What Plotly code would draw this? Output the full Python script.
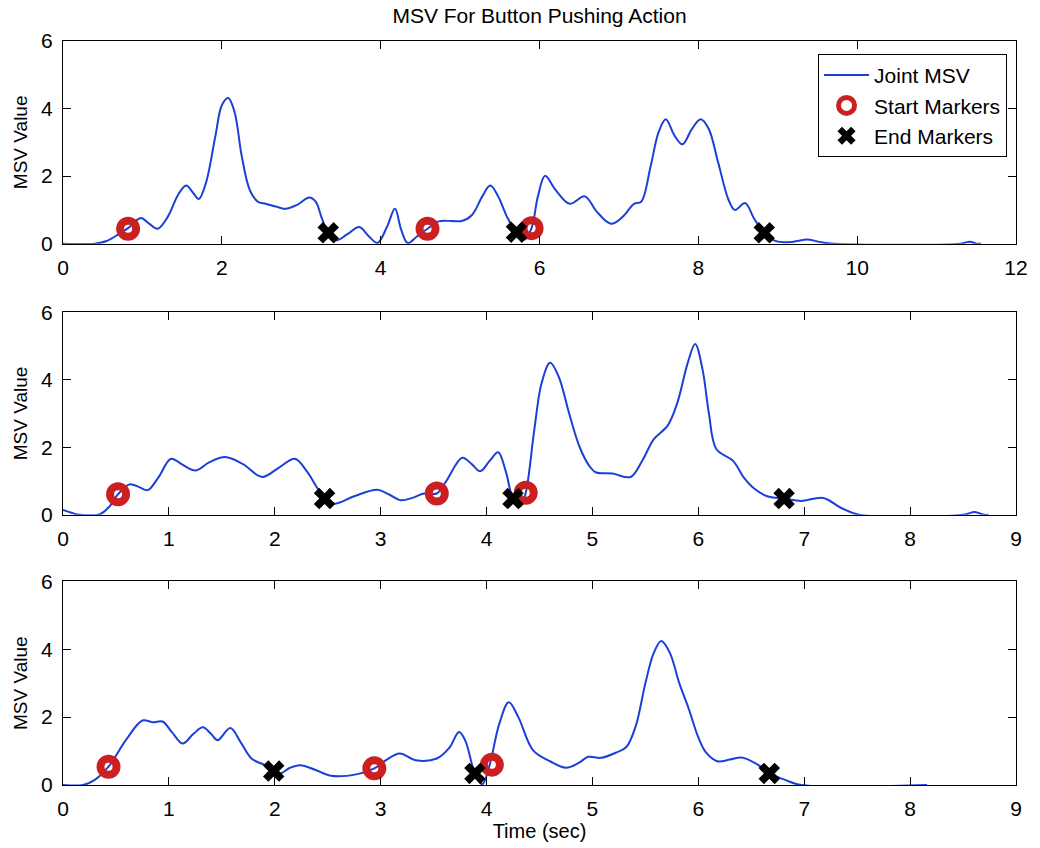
import plotly.graph_objects as go

# --- Trial 1: joint MSV over time -------------------------------------------
t1 = [0.0, 0.4, 0.55, 0.7, 0.82, 0.98, 1.08, 1.19, 1.32, 1.45, 1.55, 1.64, 1.71,
      1.8, 1.92, 2.0, 2.08, 2.16, 2.25, 2.35, 2.45, 2.55, 2.68, 2.8, 2.95, 3.1,
      3.18, 3.26, 3.34, 3.44, 3.58, 3.73, 3.85, 3.96, 4.08, 4.18, 4.26, 4.34,
      4.46, 4.59, 4.73, 4.9, 5.02, 5.15, 5.28, 5.38, 5.48, 5.6, 5.71, 5.81, 5.9,
      5.98, 6.07, 6.2, 6.38, 6.57, 6.72, 6.9, 7.05, 7.19, 7.28, 7.4, 7.5, 7.59,
      7.7, 7.8, 7.92, 8.03, 8.13, 8.25, 8.38, 8.46, 8.59, 8.7, 8.83, 8.95, 9.07,
      9.2, 9.38, 9.55, 9.71, 11.3, 11.42, 11.5, 11.56]
v1 = [0.0, 0.0, 0.08, 0.28, 0.46, 0.76, 0.6, 0.44, 0.8, 1.45, 1.72, 1.5, 1.32,
      1.8, 3.2, 4.1, 4.31, 3.9, 2.6, 1.6, 1.25, 1.18, 1.1, 1.03, 1.15, 1.37,
      1.25, 0.75, 0.32, 0.1, 0.28, 0.49, 0.22, 0.02, 0.5, 1.03, 0.4, 0.02,
      0.22, 0.44, 0.66, 0.67, 0.67, 0.85, 1.4, 1.72, 1.4, 0.75, 0.34, 0.12, 0.46,
      1.4, 2.01, 1.6, 1.18, 1.4, 0.95, 0.59, 0.8, 1.18, 1.24, 2.3, 3.3, 3.68,
      3.2, 2.94, 3.4, 3.68, 3.4, 2.4, 1.3, 1.0, 1.2, 0.75, 0.32, 0.1, 0.04,
      0.06, 0.12, 0.04, 0.0, 0.0, 0.06, 0.0, 0.0]
start_t1 = [0.82, 4.59, 5.9]
start_v1 = [0.44, 0.44, 0.46]
end_t1 = [3.34, 5.71, 8.83]
end_v1 = [0.32, 0.34, 0.32]

# --- Trial 2 ----------------------------------------------------------------
t2 = [0.0, 0.08, 0.16, 0.35, 0.44, 0.52, 0.63, 0.72, 0.8, 0.9, 1.02, 1.12, 1.25,
      1.38, 1.53, 1.7, 1.88, 2.04, 2.19, 2.3, 2.4, 2.47, 2.57, 2.75, 2.97, 3.08,
      3.19, 3.3, 3.41, 3.53, 3.62, 3.77, 3.86, 3.94, 4.03, 4.11, 4.18, 4.25,
      4.32, 4.37, 4.45, 4.52, 4.6, 4.68, 4.78, 4.88, 4.97, 5.03, 5.19, 5.36,
      5.47, 5.58, 5.71, 5.8, 5.9, 5.97, 6.04, 6.1, 6.17, 6.33, 6.43, 6.53, 6.65,
      6.81, 6.97, 7.18, 7.35, 7.52, 8.5, 8.61, 8.7, 8.74]
v2 = [0.14, 0.06, 0.0, 0.02, 0.25, 0.61, 0.9, 0.82, 0.73, 1.1, 1.66, 1.5, 1.31,
      1.55, 1.71, 1.5, 1.12, 1.4, 1.66, 1.3, 0.8, 0.48, 0.33, 0.55, 0.74, 0.6,
      0.43, 0.5, 0.63, 0.63, 1.0, 1.69, 1.5, 1.29, 1.6, 1.85, 1.3, 0.48,
      0.25, 0.65, 2.5, 3.9, 4.5, 4.1, 3.0, 2.0, 1.45, 1.26, 1.22, 1.12,
      1.6, 2.24, 2.64, 3.3, 4.5, 5.06, 4.3, 3.0, 1.95, 1.59, 1.1, 0.77, 0.55,
      0.48, 0.41, 0.5, 0.2, 0.0, 0.0, 0.08, 0.0, 0.0]
start_t2 = [0.52, 3.53, 4.37]
start_v2 = [0.61, 0.63, 0.65]
end_t2 = [2.47, 4.25, 6.81]
end_v2 = [0.48, 0.48, 0.48]

# --- Trial 3 ----------------------------------------------------------------
t3 = [0.0, 0.19, 0.3, 0.43, 0.6, 0.75, 0.85, 0.94, 1.03, 1.13, 1.23, 1.32, 1.4,
      1.46, 1.58, 1.68, 1.78, 1.91, 1.99, 2.05, 2.14, 2.24, 2.38, 2.53, 2.78,
      2.94, 3.05, 3.18, 3.33, 3.53, 3.65, 3.74, 3.8, 3.89, 3.96, 4.03, 4.12,
      4.21, 4.3, 4.44, 4.6, 4.75, 4.87, 4.96, 5.08, 5.22, 5.32, 5.41, 5.5, 5.58,
      5.65, 5.73, 5.82, 5.91, 6.0, 6.07, 6.18, 6.3, 6.41, 6.55, 6.67, 6.82,
      6.97, 8.16]
v3 = [0.0, 0.0, 0.15, 0.54, 1.35, 1.9, 1.85, 1.87, 1.55, 1.22, 1.5, 1.7, 1.5,
      1.32, 1.68, 1.25, 0.78, 0.58, 0.41, 0.34, 0.5, 0.58, 0.45, 0.27, 0.32,
      0.49, 0.73, 0.93, 0.73, 0.78, 1.1, 1.56, 1.3, 0.34, 0.02, 0.6, 1.8,
      2.44, 2.0, 1.02, 0.7, 0.51, 0.65, 0.83, 0.8, 0.95, 1.12, 1.75, 3.0, 3.9,
      4.24, 3.9, 3.0, 2.24, 1.4, 0.97, 0.7, 0.75, 0.81, 0.62, 0.34, 0.15,
      0.0, 0.0]
start_t3 = [0.43, 2.94, 4.05]
start_v3 = [0.54, 0.49, 0.6]
end_t3 = [1.99, 3.89, 6.67]
end_v3 = [0.41, 0.34, 0.34]

trials = [
    (t1, v1, start_t1, start_v1, end_t1, end_v1, 12, 2),
    (t2, v2, start_t2, start_v2, end_t2, end_v2, 9, 1),
    (t3, v3, start_t3, start_v3, end_t3, end_v3, 9, 1),
]

LINE_BLUE = "#1c3fd6"
RING_RED = "#cc2020"
FONT = "Liberation Sans, Arial, sans-serif"

fig = go.Figure()

# vertical domains of the three panels (top to bottom)
domains = [[0.7276, 1.0], [0.3632, 0.6355], [0.0, 0.2737]]

for i, (t, v, st, sv, et, ev, xmax, dx) in enumerate(trials):
    n = i + 1
    xa = "x" if n == 1 else f"x{n}"
    ya = "y" if n == 1 else f"y{n}"
    first = n == 1
    fig.add_trace(go.Scatter(
        x=t, y=v, mode="lines", name="Joint MSV",
        line=dict(color=LINE_BLUE, width=2, shape="spline", smoothing=1.0),
        xaxis=xa, yaxis=ya, showlegend=first, legendrank=1,
    ))
    fig.add_trace(go.Scatter(
        x=st, y=sv, mode="markers", name="Start Markers",
        marker=dict(symbol="circle-open", size=16, color=RING_RED,
                    line=dict(width=8, color=RING_RED)),
        xaxis=xa, yaxis=ya, showlegend=first, legendrank=2,
    ))
    fig.add_trace(go.Scatter(
        x=et, y=ev, mode="markers", name="End Markers",
        marker=dict(symbol="x", size=19, color="black",
                    line=dict(width=0)),
        xaxis=xa, yaxis=ya, showlegend=first, legendrank=3,
    ))

    axis_common = dict(
        showgrid=False, zeroline=False, showline=True, linecolor="black",
        linewidth=1, mirror="ticks", ticks="inside", ticklen=8,
        tickcolor="black", tickfont=dict(family=FONT, size=21, color="black"),
    )
    fig.layout[("xaxis" if n == 1 else f"xaxis{n}")] = dict(
        axis_common, range=[0, xmax], dtick=dx, tick0=0, anchor=ya,
        domain=[0, 1], ticklabelstandoff=5,
        title=dict(text="Time (sec)" if n == 3 else "",
                   font=dict(family=FONT, size=20, color="black"), standoff=2),
    )
    fig.layout[("yaxis" if n == 1 else f"yaxis{n}")] = dict(
        axis_common, range=[0, 6], dtick=2, tick0=0, anchor=xa,
        domain=domains[i], ticklabelstandoff=5,
        title=dict(text="MSV Value",
                   font=dict(family=FONT, size=19, color="black"), standoff=8),
    )

fig.update_layout(
    width=1040, height=848,
    margin=dict(l=63, r=16, t=41, b=58),
    paper_bgcolor="white", plot_bgcolor="white",
    title=dict(text="MSV For Button Pushing Action", x=0.5, xref="paper",
               xanchor="center", y=0.982, yanchor="middle",
               font=dict(family=FONT, size=21, color="black")),
    legend=dict(x=0.9906, y=0.9826, xanchor="right", yanchor="top",
                bgcolor="white", bordercolor="black", borderwidth=1,
                font=dict(family=FONT, size=21, color="black"),
                itemwidth=45, tracegroupgap=0),
    showlegend=True,
)

fig.write_html("out.html")
